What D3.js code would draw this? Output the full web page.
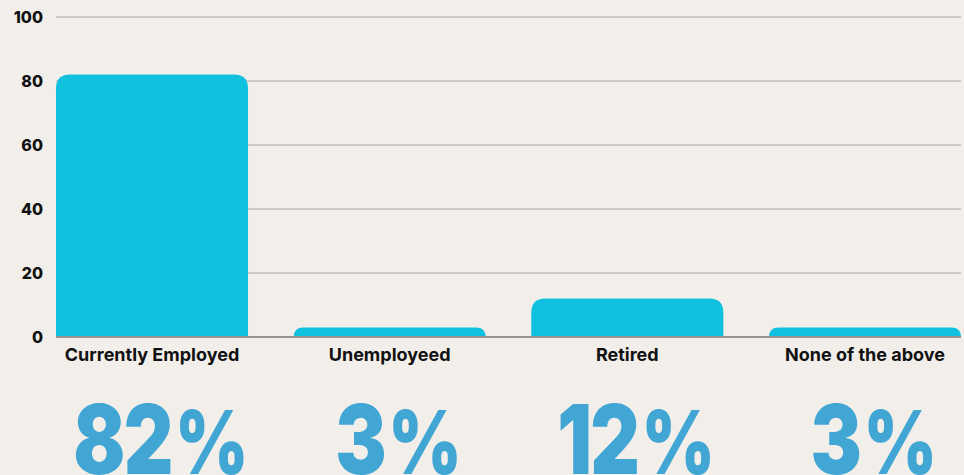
<!DOCTYPE html>
<html>
<head>
    <style>
        body {
            margin: 0;
            background: #f2efea;
            font-family: Inter, "Noto Sans", sans-serif;
        }
        svg { display: block; }
    </style>
</head>
<body>
    <svg width="964" height="475"></svg>

    <script src="https://d3js.org/d3.v7.min.js"></script>
    <script>
        const categories = ["Currently Employed", "Unemployeed", "Retired", "None of the above"];
        const values = [82, 3, 12, 3];
        const percentLabels = ["82", "3", "12", "3"];
        const yTicks = [0, 20, 40, 60, 80, 100];

        const svg = d3.select("svg");

        const x = d3.scaleBand()
            .domain(categories)
            .range([56, 961])
            .paddingInner(0.192)
            .paddingOuter(0);

        const y = d3.scaleLinear()
            .domain([0, 100])
            .range([337, 17]);

        // gridlines
        svg.append("g")
            .selectAll("line")
            .data(yTicks.filter(d => d > 0))
            .join("line")
            .attr("x1", 56)
            .attr("x2", 961)
            .attr("y1", d => y(d))
            .attr("y2", d => y(d))
            .attr("stroke", "#ccc8c3")
            .attr("stroke-width", 2);

        // y tick labels
        svg.append("g")
            .selectAll("text")
            .data(yTicks)
            .join("text")
            .attr("x", 43)
            .attr("y", d => y(d))
            .attr("dy", "0.35em")
            .attr("text-anchor", "end")
            .attr("font-size", 16)
            .attr("font-weight", 800)
            .attr("fill", "#111")
            .text(d => d);

        // bars with rounded top corners
        const r = 14;
        function barPath(d, i) {
            const x0 = x(categories[i]), w = x.bandwidth();
            const top = y(d), bottom = y(0);
            const rr = Math.min(r, bottom - top, w / 2);
            return `M${x0},${bottom}V${top + rr}Q${x0},${top} ${x0 + rr},${top}` +
                   `H${x0 + w - rr}Q${x0 + w},${top} ${x0 + w},${top + rr}V${bottom}Z`;
        }
        svg.append("g")
            .selectAll("path")
            .data(values)
            .join("path")
            .attr("d", barPath)
            .attr("fill", "#0fc0df");

        // baseline
        svg.append("line")
            .attr("x1", 56)
            .attr("x2", 961)
            .attr("y1", y(0))
            .attr("y2", y(0))
            .attr("stroke", "#9a9590")
            .attr("stroke-width", 2);

        // category labels
        svg.append("g")
            .selectAll("text")
            .data(categories)
            .join("text")
            .attr("x", d => x(d) + x.bandwidth() / 2)
            .attr("y", 355)
            .attr("dy", "0.35em")
            .attr("text-anchor", "middle")
            .attr("font-size", 18)
            .attr("font-weight", 700)
            .attr("fill", "#111")
            .text(d => d);

        // big percentages (condensed heavy numerals)
        const big = svg.append("g")
            .selectAll("text")
            .data(percentLabels)
            .join("text")
            .attr("transform", (d, i) => `translate(${x(categories[i]) + x.bandwidth() / 2 + 8},474) scale(0.8,1)`)
            .attr("text-anchor", "middle")
            .attr("font-size", 96)
            .attr("font-weight", 900)
            .attr("letter-spacing", -2)
            .attr("fill", "#41a6d4");
        big.append("tspan").text(d => d);
        big.append("tspan").attr("font-size", 88).attr("dx", 4).text("%");
    </script>
</body>
</html>
